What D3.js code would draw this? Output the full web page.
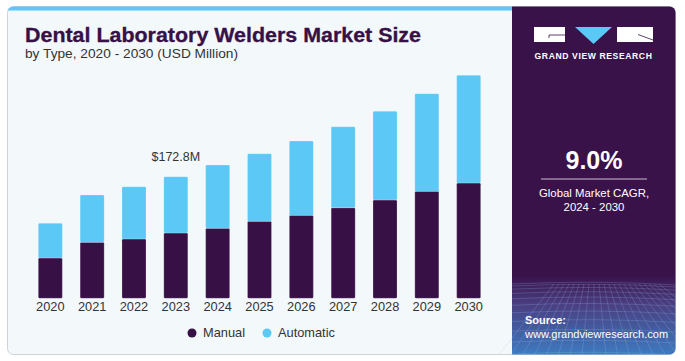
<!DOCTYPE html>
<html>
<head>
<meta charset="utf-8">
<script src="https://cdn.jsdelivr.net/npm/d3@7"></script>
<style>
    body { margin: 0; background: #ffffff; }
    svg { display: block; font-family: "Liberation Sans", Arial, sans-serif; }
</style>
</head>
<body>
<svg id="chart"></svg>
<script>
"use strict";

// Data (USD Million)
const years = ["2020", "2021", "2022", "2023", "2024", "2025", "2026", "2027", "2028", "2029", "2030"];
const manual = [57.3, 79.6, 84.3, 92.8, 99.5, 109.4, 117.9, 128.7, 139.7, 152.0, 163.8];
const automatic = [49.3, 67.2, 74.3, 80.0, 89.9, 96.1, 105.6, 115.2, 126.0, 138.8, 153.1];
const seriesNames = ["Manual", "Automatic"];
const calloutYear = "2023";
const calloutLabel = "$172.8M";

// Dimensions
const width = 685;
const height = 361;
const colors = { Manual: "#371046", Automatic: "#5bc8f5" };
const panelColor = "#39124a";

const svg = d3.select("#chart").attr("width", width).attr("height", height);

// Card background
svg.append("rect")
    .attr("x", 7.5).attr("y", 6.5).attr("width", 668).attr("height", 348)
    .attr("rx", 6)
    .attr("fill", "#f3f8fb")
    .attr("stroke", "#cfd2d6");

// top stripe
const defs = svg.append("defs");
defs.append("clipPath").attr("id", "cardClip")
    .append("rect").attr("x", 7.5).attr("y", 6.5).attr("width", 668).attr("height", 348).attr("rx", 6);

const card = svg.append("g").attr("clip-path", "url(#cardClip)");
card.append("rect").attr("x", 7).attr("y", 6).attr("width", 506).attr("height", 4.5).attr("fill", "#5bc8f5");

// Right panel
const grad = defs.append("linearGradient").attr("id", "panelGrad")
    .attr("x1", 0).attr("y1", 0).attr("x2", 0).attr("y2", 1);
grad.append("stop").attr("offset", "0%").attr("stop-color", panelColor);
grad.append("stop").attr("offset", "77%").attr("stop-color", panelColor);
grad.append("stop").attr("offset", "85%").attr("stop-color", "#4a3d80");
grad.append("stop").attr("offset", "100%").attr("stop-color", "#3d7cc2");

card.append("rect").attr("x", 512).attr("y", 6).attr("width", 165).attr("height", 350)
    .attr("fill", "url(#panelGrad)");

// faint grid in the bottom of the panel
const gridG = card.append("g").attr("stroke", "#9fc3ee").attr("stroke-opacity", 0.22).attr("fill", "none");
d3.range(0, 12).forEach(i => {
    let y = 284 + i * i * 0.55 + i * 1.5;
    gridG.append("path").attr("d", `M512,${y} Q594,${y - 4} 677,${y + 1}`);
});
d3.range(-8, 14).forEach(i => {
    let x = 594 + i * 12;
    gridG.append("line").attr("x1", 594 + i * 5).attr("y1", 284).attr("x2", x).attr("y2", 356);
});

// Logo
const logo = svg.append("g");
logo.append("rect").attr("x", 534).attr("y", 27).attr("width", 31).attr("height", 15).attr("fill", "#ffffff");
logo.append("path").attr("d", "M549,35 L565,35").attr("stroke", panelColor).attr("stroke-width", 0.8);
logo.append("path").attr("d", "M549,35 L549,38").attr("stroke", panelColor).attr("stroke-width", 0.8);
logo.append("path").attr("d", "M575,27 L612,27 L593.5,44 Z").attr("fill", "#5bc8f5");
logo.append("rect").attr("x", 617).attr("y", 27).attr("width", 36).attr("height", 15).attr("fill", "#ffffff");
logo.append("path").attr("d", "M638,34.5 L653,40").attr("stroke", panelColor).attr("stroke-width", 0.8);
logo.append("text").attr("x", 593.5).attr("y", 58.5).attr("text-anchor", "middle")
    .attr("fill", "#ffffff").attr("font-size", 8.6).attr("font-weight", "bold").attr("letter-spacing", 0.6)
    .text("GRAND VIEW RESEARCH");

// CAGR
svg.append("text").attr("x", 594).attr("y", 168.5).attr("text-anchor", "middle")
    .attr("fill", "#ffffff").attr("font-size", 25).attr("font-weight", "bold")
    .text("9.0%");
svg.append("line").attr("x1", 541).attr("x2", 647).attr("y1", 179).attr("y2", 179)
    .attr("stroke", "#c9bfd0").attr("stroke-width", 1);
svg.append("text").attr("x", 594).attr("y", 197).attr("text-anchor", "middle")
    .attr("fill", "#ffffff").attr("font-size", 11.4).text("Global Market CAGR,");
svg.append("text").attr("x", 594).attr("y", 211).attr("text-anchor", "middle")
    .attr("fill", "#ffffff").attr("font-size", 11.4).text("2024 - 2030");

// Source
svg.append("text").attr("x", 525).attr("y", 324).attr("fill", "#ffffff")
    .attr("font-size", 11).attr("font-weight", "bold").text("Source:");
svg.append("text").attr("x", 525).attr("y", 337.5).attr("fill", "#ffffff")
    .attr("font-size", 11).text("www.grandviewresearch.com");

// Titles
svg.append("text").attr("x", 25).attr("y", 41.5).attr("fill", "#371046")
    .attr("font-size", 19.5).attr("font-weight", 900)
    .attr("stroke", "#371046").attr("stroke-width", 0.3)
    .attr("textLength", 396).attr("lengthAdjust", "spacingAndGlyphs")
    .text("Dental Laboratory Welders Market Size");
svg.append("text").attr("x", 25).attr("y", 58).attr("fill", "#333333")
    .attr("font-size", 12.5)
    .attr("textLength", 213).attr("lengthAdjust", "spacingAndGlyphs")
    .text("by Type, 2020 - 2030 (USD Million)");

// Scales
const xScale = d3.scaleBand()
    .domain(years)
    .range([29.4, 489.6])
    .paddingInner(0.426)
    .paddingOuter(0.213);
const yScale = d3.scaleLinear()
    .domain([0, 320])
    .range([298.3, 298.3 - 0.7037 * 320]);

const table = years.map((y, i) => ({ year: y, Manual: manual[i], Automatic: automatic[i] }));
const stacked = d3.stack().keys(seriesNames)(table);

const barG = svg.append("g");
barG.selectAll("g")
    .data(stacked)
    .join("g")
    .attr("fill", d => colors[d.key])
    .selectAll("rect")
    .data(d => d)
    .join("rect")
    .attr("x", d => xScale(d.data.year))
    .attr("y", d => yScale(d[1]))
    .attr("width", xScale.bandwidth())
    .attr("height", d => yScale(d[0]) - yScale(d[1]))
    .attr("rx", 1.2)
    .attr("stroke", "#ffffff").attr("stroke-opacity", 0.35).attr("stroke-width", 0.6);

// Callout
const calloutIdx = years.indexOf(calloutYear);
svg.append("text")
    .attr("x", xScale(calloutYear) + xScale.bandwidth() / 2)
    .attr("y", yScale(manual[calloutIdx] + automatic[calloutIdx]) - 16)
    .attr("text-anchor", "middle").attr("fill", "#333333").attr("font-size", 12.5)
    .text(calloutLabel);

// X axis
const xAxis = svg.append("g")
    .attr("transform", "translate(0,298.3)")
    .call(d3.axisBottom(xScale).tickSize(0).tickPadding(4));
xAxis.select(".domain").remove();
xAxis.selectAll("text").attr("font-size", 12.8).attr("fill", "#333333")
    .attr("font-family", "Liberation Sans, Arial, sans-serif");

// Legend
const legend = svg.append("g");
const legendX = [192, 267];
seriesNames.forEach((name, i) => {
    legend.append("circle").attr("cx", legendX[i]).attr("cy", 333).attr("r", 4.5).attr("fill", colors[name]);
    legend.append("text").attr("x", legendX[i] + 11).attr("y", 337).attr("font-size", 12.8)
        .attr("fill", "#333333").text(name);
});
</script>
</body>
</html>
